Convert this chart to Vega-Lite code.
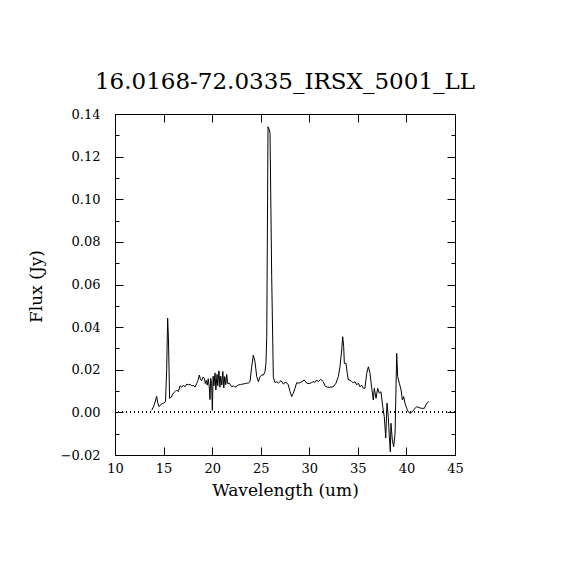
{
  "$schema": "https://vega.github.io/schema/vega-lite/v6.json",
  "width": 340,
  "height": 341,
  "autosize": {"type": "none"},
  "padding": {"left": 115, "top": 114, "right": 115, "bottom": 115},
  "background": "white",
  "title": {"text": "16.0168-72.0335_IRSX_5001_LL", "font": "DejaVu Serif", "fontSize": 23, "fontWeight": "normal", "color": "black", "anchor": "middle", "offset": 14},
  "config": {
    "view": {"stroke": "black", "strokeWidth": 1},
    "axis": {"domainColor": "black", "tickColor": "black", "labelColor": "black", "titleColor": "black", "labelFont": "DejaVu Serif", "labelFontSize": 13, "titleFont": "DejaVu Serif", "titleFontSize": 17, "titleFontWeight": "normal", "grid": false, "labelFlush": false, "labelOverlap": false}
  },
  "data": {"values": [
    {"wl": 13.78, "flux": 0.001}, {"wl": 14.0, "flux": 0.003}, {"wl": 14.29, "flux": 0.0075}, {"wl": 14.4, "flux": 0.0045},
    {"wl": 14.53, "flux": 0.0027}, {"wl": 14.75, "flux": 0.0038}, {"wl": 14.97, "flux": 0.0043}, {"wl": 15.2, "flux": 0.005},
    {"wl": 15.32, "flux": 0.02}, {"wl": 15.42, "flux": 0.0442}, {"wl": 15.5, "flux": 0.035}, {"wl": 15.62, "flux": 0.0066},
    {"wl": 15.8, "flux": 0.0072}, {"wl": 16.0, "flux": 0.009}, {"wl": 16.2, "flux": 0.0098}, {"wl": 16.35, "flux": 0.0105},
    {"wl": 16.52, "flux": 0.0097}, {"wl": 16.7, "flux": 0.0125}, {"wl": 16.86, "flux": 0.0118}, {"wl": 17.05, "flux": 0.0128},
    {"wl": 17.2, "flux": 0.012}, {"wl": 17.4, "flux": 0.0133}, {"wl": 17.55, "flux": 0.0129}, {"wl": 17.75, "flux": 0.0132},
    {"wl": 17.9, "flux": 0.0124}, {"wl": 18.1, "flux": 0.0126}, {"wl": 18.24, "flux": 0.0118}, {"wl": 18.4, "flux": 0.0135},
    {"wl": 18.5, "flux": 0.0144}, {"wl": 18.68, "flux": 0.0175}, {"wl": 18.8, "flux": 0.0155}, {"wl": 18.92, "flux": 0.0148},
    {"wl": 19.05, "flux": 0.0165}, {"wl": 19.2, "flux": 0.016}, {"wl": 19.3, "flux": 0.0135}, {"wl": 19.4, "flux": 0.015},
    {"wl": 19.5, "flux": 0.0128}, {"wl": 19.6, "flux": 0.0158}, {"wl": 19.7, "flux": 0.012}, {"wl": 19.78, "flux": 0.006},
    {"wl": 19.85, "flux": 0.016}, {"wl": 19.95, "flux": 0.0135}, {"wl": 20.02, "flux": 0.001}, {"wl": 20.1, "flux": 0.017},
    {"wl": 20.18, "flux": 0.0125}, {"wl": 20.3, "flux": 0.0185}, {"wl": 20.38, "flux": 0.0105}, {"wl": 20.5, "flux": 0.0178},
    {"wl": 20.58, "flux": 0.0125}, {"wl": 20.7, "flux": 0.0195}, {"wl": 20.8, "flux": 0.0118}, {"wl": 20.88, "flux": 0.017},
    {"wl": 21.0, "flux": 0.0128}, {"wl": 21.1, "flux": 0.0192}, {"wl": 21.2, "flux": 0.0115}, {"wl": 21.3, "flux": 0.0168},
    {"wl": 21.4, "flux": 0.013}, {"wl": 21.5, "flux": 0.0178}, {"wl": 21.6, "flux": 0.0135}, {"wl": 21.77, "flux": 0.0137},
    {"wl": 22.01, "flux": 0.012}, {"wl": 22.2, "flux": 0.0125}, {"wl": 22.35, "flux": 0.0118}, {"wl": 22.55, "flux": 0.0124},
    {"wl": 22.7, "flux": 0.0129}, {"wl": 22.9, "flux": 0.013}, {"wl": 23.04, "flux": 0.0132}, {"wl": 23.3, "flux": 0.0134},
    {"wl": 23.56, "flux": 0.0137}, {"wl": 23.75, "flux": 0.0138}, {"wl": 23.9, "flux": 0.0144}, {"wl": 24.07, "flux": 0.0214},
    {"wl": 24.24, "flux": 0.0269}, {"wl": 24.41, "flux": 0.0238}, {"wl": 24.59, "flux": 0.0168}, {"wl": 24.76, "flux": 0.0144},
    {"wl": 24.93, "flux": 0.0168}, {"wl": 25.1, "flux": 0.0175}, {"wl": 25.27, "flux": 0.0175}, {"wl": 25.44, "flux": 0.019},
    {"wl": 25.54, "flux": 0.023}, {"wl": 25.62, "flux": 0.0355}, {"wl": 25.68, "flux": 0.079}, {"wl": 25.75, "flux": 0.134},
    {"wl": 25.85, "flux": 0.133}, {"wl": 25.96, "flux": 0.131}, {"wl": 26.13, "flux": 0.0637}, {"wl": 26.3, "flux": 0.0165},
    {"wl": 26.47, "flux": 0.014}, {"wl": 26.65, "flux": 0.0144}, {"wl": 26.82, "flux": 0.0137}, {"wl": 27.09, "flux": 0.0149},
    {"wl": 27.33, "flux": 0.0133}, {"wl": 27.5, "flux": 0.014}, {"wl": 27.68, "flux": 0.0139}, {"wl": 27.84, "flux": 0.0129},
    {"wl": 28.02, "flux": 0.0097}, {"wl": 28.19, "flux": 0.0074}, {"wl": 28.36, "flux": 0.009}, {"wl": 28.53, "flux": 0.0113},
    {"wl": 28.7, "flux": 0.0139}, {"wl": 28.94, "flux": 0.0137}, {"wl": 29.22, "flux": 0.0144}, {"wl": 29.49, "flux": 0.0152},
    {"wl": 29.73, "flux": 0.0137}, {"wl": 30.0, "flux": 0.0135}, {"wl": 30.2, "flux": 0.0139}, {"wl": 30.41, "flux": 0.0144},
    {"wl": 30.59, "flux": 0.0141}, {"wl": 30.76, "flux": 0.0152}, {"wl": 30.93, "flux": 0.0144}, {"wl": 31.17, "flux": 0.0155},
    {"wl": 31.44, "flux": 0.0144}, {"wl": 31.62, "flux": 0.0124}, {"wl": 31.86, "flux": 0.0118}, {"wl": 32.13, "flux": 0.0118},
    {"wl": 32.47, "flux": 0.012}, {"wl": 32.75, "flux": 0.0137}, {"wl": 32.99, "flux": 0.0168}, {"wl": 33.16, "flux": 0.0214},
    {"wl": 33.34, "flux": 0.0293}, {"wl": 33.44, "flux": 0.0355}, {"wl": 33.54, "flux": 0.0308}, {"wl": 33.61, "flux": 0.023},
    {"wl": 33.78, "flux": 0.023}, {"wl": 33.91, "flux": 0.0183}, {"wl": 34.02, "flux": 0.0152}, {"wl": 34.19, "flux": 0.0152},
    {"wl": 34.37, "flux": 0.0144}, {"wl": 34.53, "flux": 0.0139}, {"wl": 34.71, "flux": 0.0144}, {"wl": 34.88, "flux": 0.0129},
    {"wl": 35.05, "flux": 0.0137}, {"wl": 35.22, "flux": 0.012}, {"wl": 35.38, "flux": 0.0128}, {"wl": 35.56, "flux": 0.0113},
    {"wl": 35.73, "flux": 0.0113}, {"wl": 35.91, "flux": 0.0183}, {"wl": 36.08, "flux": 0.0214}, {"wl": 36.25, "flux": 0.0183},
    {"wl": 36.43, "flux": 0.0113}, {"wl": 36.59, "flux": 0.0058}, {"wl": 36.69, "flux": 0.0113}, {"wl": 36.87, "flux": 0.0066},
    {"wl": 37.04, "flux": 0.0113}, {"wl": 37.21, "flux": 0.009}, {"wl": 37.38, "flux": 0.0097}, {"wl": 37.56, "flux": 0.0027},
    {"wl": 37.72, "flux": -0.002}, {"wl": 37.87, "flux": -0.012}, {"wl": 38.0, "flux": 0.0043}, {"wl": 38.13, "flux": -0.002},
    {"wl": 38.24, "flux": -0.0114}, {"wl": 38.34, "flux": -0.0185}, {"wl": 38.41, "flux": -0.0051}, {"wl": 38.55, "flux": -0.013},
    {"wl": 38.69, "flux": -0.0161}, {"wl": 38.83, "flux": -0.0098}, {"wl": 39.0, "flux": 0.0277}, {"wl": 39.1, "flux": 0.0168},
    {"wl": 39.27, "flux": 0.0137}, {"wl": 39.45, "flux": 0.0105}, {"wl": 39.58, "flux": 0.0058}, {"wl": 39.72, "flux": 0.0074},
    {"wl": 39.85, "flux": 0.0043}, {"wl": 40.03, "flux": 0.0019}, {"wl": 40.19, "flux": 0.0003}, {"wl": 40.37, "flux": -0.0004},
    {"wl": 40.6, "flux": 0.0003}, {"wl": 40.81, "flux": 0.0015}, {"wl": 41.06, "flux": 0.0027}, {"wl": 41.3, "flux": 0.0022},
    {"wl": 41.57, "flux": 0.0019}, {"wl": 41.84, "flux": 0.0019}, {"wl": 42.09, "flux": 0.0043}, {"wl": 42.3, "flux": 0.005}
  ]},
  "resolve": {"axis": {"x": "independent", "y": "independent"}},
  "layer": [
    {
      "mark": {"type": "line", "color": "black", "strokeWidth": 1, "interpolate": "linear"},
      "encoding": {
        "x": {"field": "wl", "type": "quantitative", "scale": {"domain": [10, 45], "nice": false, "zero": false},
              "axis": {"orient": "bottom", "title": "Wavelength (um)", "values": [10, 15, 20, 25, 30, 35, 40, 45], "format": "d", "tickSize": -8, "labelPadding": 15, "titleY": 35, "titleBaseline": "middle"}},
        "y": {"field": "flux", "type": "quantitative", "scale": {"domain": [-0.02, 0.14], "nice": false, "zero": false},
              "axis": {"orient": "left", "title": "Flux (Jy)", "values": [-0.02, -0.01, 0, 0.01, 0.02, 0.03, 0.04, 0.05, 0.06, 0.07, 0.08, 0.09, 0.1, 0.11, 0.12, 0.13, 0.14],
                       "format": ".2f", "labelExpr": "abs(round(datum.value*100)) % 2 == 0 ? datum.label : ''",
                       "tickSize": {"condition": {"test": "abs(round(datum.value*100)) % 2 == 0", "value": -8}, "value": -4},
                       "labelPadding": 23, "titleX": -79, "titleY": 172, "titleAngle": -90, "titleBaseline": "middle"}}
      }
    },
    {
      "mark": {"type": "rule", "color": "black", "strokeWidth": 1, "strokeDash": [1, 3]},
      "encoding": {
        "y": {"datum": 0, "type": "quantitative",
              "axis": {"orient": "right", "title": null, "labels": false, "values": [-0.02, -0.01, 0, 0.01, 0.02, 0.03, 0.04, 0.05, 0.06, 0.07, 0.08, 0.09, 0.1, 0.11, 0.12, 0.13, 0.14],
                       "tickSize": {"condition": {"test": "abs(round(datum.value*100)) % 2 == 0", "value": -8}, "value": -4}}}
      }
    },
    {
      "mark": {"type": "point", "opacity": 0},
      "encoding": {
        "x": {"field": "wl", "type": "quantitative", "axis": {"orient": "top", "title": null, "labels": false, "values": [10, 15, 20, 25, 30, 35, 40, 45], "tickSize": -8}},
        "y": {"field": "flux", "type": "quantitative", "axis": null}
      }
    }
  ]
}
